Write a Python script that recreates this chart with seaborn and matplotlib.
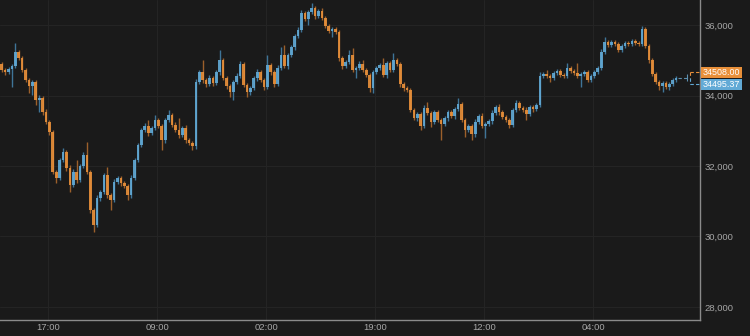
import numpy as np
import pandas as pd
import matplotlib
matplotlib.use("Agg")
import matplotlib.pyplot as plt
from matplotlib.patches import Rectangle
import seaborn as sns

# ---------------- data ----------------
first_open = 34895
closes = [
    34725, 34665, 34750, 34835, 35235, 35065, 34725, 34440, 34270, 34385,
    33870, 33930, 33530, 33250, 32965, 31830, 31660, 32170, 32395, 31945,
    31460, 31830, 31600, 32000, 32310, 31830, 30750, 30325, 31090, 31260,
    31745, 31175, 31035, 31545, 31660, 31515, 31430, 31175, 31660, 32170,
    32595, 33020, 33135, 32935, 33080, 33305, 33135, 32735, 33305, 33445,
    33165, 33020, 32880, 33080, 32735, 32650, 32565, 34385, 34665, 34440,
    34325, 34495, 34355, 34665, 35005, 34495, 34270, 34100, 34385, 34555,
    34895, 34300, 34100, 34210, 34495, 34665, 34440, 34240, 34865, 34665,
    34325, 34780, 35150, 34835, 35150, 35375, 35690, 35860, 36340, 36170,
    36370, 36480, 36255, 36395, 36200, 35970, 35830, 35885, 35800, 35065,
    34835, 34950, 35150, 34725, 34780, 34895, 34725, 34580, 34210, 34665,
    34780, 34865, 34580, 34920, 34725, 35005, 34895, 34325, 34210, 34155,
    33590, 33360, 33475, 33135, 33645, 33505, 33250, 33530, 33305, 33190,
    33360, 33530, 33420, 33615, 33760, 33305, 33020, 33135, 32905, 33250,
    33420, 33135, 33190, 33275, 33505, 33675, 33530, 33390, 33305, 33165,
    33590, 33785, 33645, 33590, 33475, 33675, 33615, 33730, 34555, 34610,
    34555, 34495, 34640, 34695, 34580, 34555, 34780, 34695, 34640, 34555,
    34610, 34665, 34440, 34555, 34665, 34780, 35235, 35515, 35430, 35515,
    35460, 35290, 35405, 35490, 35460, 35545, 35490, 35460, 35885, 35405,
    35005, 34610, 34385, 34270, 34355, 34240, 34325, 34440, 34495,
]
wick_up = [
    60, 50, 70, 60, 255, 55, 60, 50, 70, 60,
    50, 80, 60, 90, 60, 70, 50, 60, 115, 60,
    70, 80, 340, 60, 80, 370, 60, 70, 80, 60,
    70, 225, 60, 80, 60, 70, 60, 50, 80, 60,
    70, 60, 80, 170, 60, 140, 60, 70, 60, 145,
    60, 70, 340, 60, 80, 60, 50, 90, 70, 340,
    60, 80, 60, 70, 285, 60, 50, 70, 60, 80,
    70, 60, 50, 70, 60, 80, 60, 50, 285, 70,
    60, 80, 225, 280, 60, 70, 60, 80, 85, 60,
    70, 145, 50, 60, 85, 60, 50, 70, 60, 60,
    60, 70, 140, 195, 60, 70, 110, 60, 50, 70,
    60, 70, 200, 60, 70, 200, 60, 50, 60, 70,
    60, 50, 70, 60, 80, 170, 60, 70, 60, 70,
    60, 70, 50, 60, 170, 60, 50, 70, 60, 80,
    60, 70, 60, 50, 70, 60, 80, 50, 60, 70,
    60, 85, 60, 50, 70, 60, 50, 60, 110, 60,
    115, 60, 50, 60, 50, 60, 140, 50, 60, 280,
    60, 70, 50, 60, 70, 60, 80, 145, 60, 50,
    60, 50, 60, 50, 60, 70, 50, 60, 85, 70,
    60, 70, 60, 50, 60, 70, 60, 70, 60,
]
wick_dn = [
    60, 70, 60, 510, 60, 50, 70, 60, 200, 255,
    140, 340, 70, 60, 80, 70, 145, 60, 70, 80,
    200, 60, 70, 60, 50, 70, 80, 200, 60, 70,
    60, 80, 285, 70, 60, 80, 60, 140, 70, 60,
    60, 70, 60, 80, 60, 70, 60, 280, 85, 60,
    70, 60, 80, 60, 70, 60, 110, 70, 60, 80,
    70, 60, 80, 60, 70, 60, 80, 145, 230, 60,
    60, 70, 145, 85, 60, 70, 60, 80, 60, 70,
    85, 60, 70, 60, 80, 60, 70, 60, 50, 60,
    170, 60, 70, 60, 50, 60, 70, 170, 60, 80,
    70, 60, 50, 70, 230, 60, 70, 60, 110, 140,
    60, 70, 60, 80, 60, 70, 60, 80, 70, 60,
    70, 60, 70, 115, 60, 70, 145, 60, 70, 455,
    60, 70, 60, 80, 60, 70, 200, 60, 170, 70,
    60, 70, 345, 60, 70, 60, 70, 60, 70, 85,
    60, 70, 60, 70, 170, 60, 70, 60, 70, 60,
    60, 110, 60, 70, 60, 50, 60, 70, 60, 70,
    315, 60, 70, 60, 50, 60, 70, 60, 50, 60,
    50, 55, 60, 50, 60, 50, 60, 50, 60, 70,
    80, 60, 70, 115, 170, 60, 70, 60, 50,
]
x_tick_labels = ["17:00", "09:00", "02:00", "19:00", "12:00", "04:00"]
x_tick_pos = [13.6, 45.6, 77.6, 109.6, 141.6, 173.6]
y_ticks = [28000, 30000, 32000, 34000, 36000]
last_price = 34495.37
ref_price = 34508.00

# ---------------- frame ----------------
opens = [first_open] + closes[:-1]
df = pd.DataFrame({"idx": np.arange(len(closes)), "open": opens, "close": closes})
df["top"] = df[["open", "close"]].max(axis=1)
df["bot"] = df[["open", "close"]].min(axis=1)
df["high"] = df["top"] + np.array(wick_up)
df["low"] = df["bot"] - np.array(wick_dn)
df["dir"] = np.where(df["close"] >= df["open"], "up", "down")

BG = "#1a1a1a"
UP = "#62aad6"
DOWN = "#e9903a"
UP_W = "#3f7598"
DOWN_W = "#9c602b"
GRID = "#242424"
AXC = "#8a8a8a"
TXT = "#a6a6a6"

sns.set_theme(style="dark", rc={
    "figure.facecolor": BG, "axes.facecolor": BG, "savefig.facecolor": BG,
    "axes.edgecolor": AXC, "grid.color": GRID,
})
plt.rcParams["font.family"] = ["Liberation Sans", "DejaVu Sans"]

fig = plt.figure(figsize=(7.5, 3.36), dpi=100)
ax = fig.add_axes([0, 16 / 336, 700 / 750, 320 / 336])
ax.set_facecolor(BG)

for t in x_tick_pos:
    ax.axvline(t, color=GRID, lw=0.8, zorder=0)
for t in y_ticks:
    ax.axhline(t, color=GRID, lw=0.8, zorder=0)

for d, body_c, wick_c in (("up", UP, UP_W), ("down", DOWN, DOWN_W)):
    sub = df[df["dir"] == d]
    ax.vlines(sub["idx"], sub["low"], sub["high"], colors=wick_c, lw=1.0, zorder=2)
    h = np.maximum(sub["top"] - sub["bot"], 40)
    ax.bar(sub["idx"], h, bottom=sub["bot"] - (h - (sub["top"] - sub["bot"])) / 2,
           width=0.78, color=body_c, edgecolor="none", alpha=0.9, zorder=3)

# tail after last candle
n = len(closes)
ax.plot([n - 0.5, n + 2.2], [last_price, last_price], color="#5d8fae",
        lw=0.8, ls=(0, (3, 2)), zorder=2)
ax.vlines([n + 2.2], last_price - 70, last_price + 110, colors="#5d8fae", lw=0.8, zorder=2)
y_or = 34666
y_bl = 34326
ax.plot([n + 3.2, n + 3.2], [y_or, (y_or + y_bl) / 2], color=DOWN, lw=0.8, ls=(0, (3, 2)))
ax.plot([n + 3.2, n + 3.2], [(y_or + y_bl) / 2, y_bl], color=UP, lw=0.8, ls=(0, (3, 2)))
ax.plot([n + 3.2, 205], [y_or, y_or], color=DOWN, lw=0.8, ls=(0, (3, 2)))
ax.plot([n + 3.2, 205], [y_bl, y_bl], color=UP, lw=0.8, ls=(0, (3, 2)))

ax.set_xlim(-0.5, 205)
ax.set_ylim(27630, 36710)

ax.set_xticks(x_tick_pos)
ax.set_xticklabels(x_tick_labels)
ax.set_yticks(y_ticks)
ax.set_yticklabels([f"{v:,.0f}" for v in y_ticks])
ax.yaxis.tick_right()
ax.tick_params(axis="y", length=0, pad=3.5, labelsize=6.8, colors=TXT)
ax.tick_params(axis="x", length=0, pad=2.5, labelsize=6.8, colors=TXT)
ax.grid(False)
for s in ("left", "top"):
    ax.spines[s].set_visible(False)
for s in ("right", "bottom"):
    ax.spines[s].set_visible(True)
    ax.spines[s].set_color(AXC)
    ax.spines[s].set_linewidth(1.0)

# price labels
def fig_box(x0, y_top, w, h, color, text):
    fig.patches.append(Rectangle((x0 / 750, 1 - (y_top + h) / 336), w / 750, h / 336,
                                 transform=fig.transFigure, facecolor=color,
                                 edgecolor="none", zorder=5))
    fig.text((x0 + w / 2) / 750, 1 - (y_top + h / 2) / 336, text, color="white",
             fontsize=6.4, ha="center", va="center", zorder=6)

fig_box(700.5, 66.6, 41, 11.6, DOWN, f"{ref_price:.2f}")
fig_box(700.5, 79.3, 41, 10.8, UP, f"{last_price:.2f}")

fig.savefig("out.png", dpi=100, facecolor=BG)
